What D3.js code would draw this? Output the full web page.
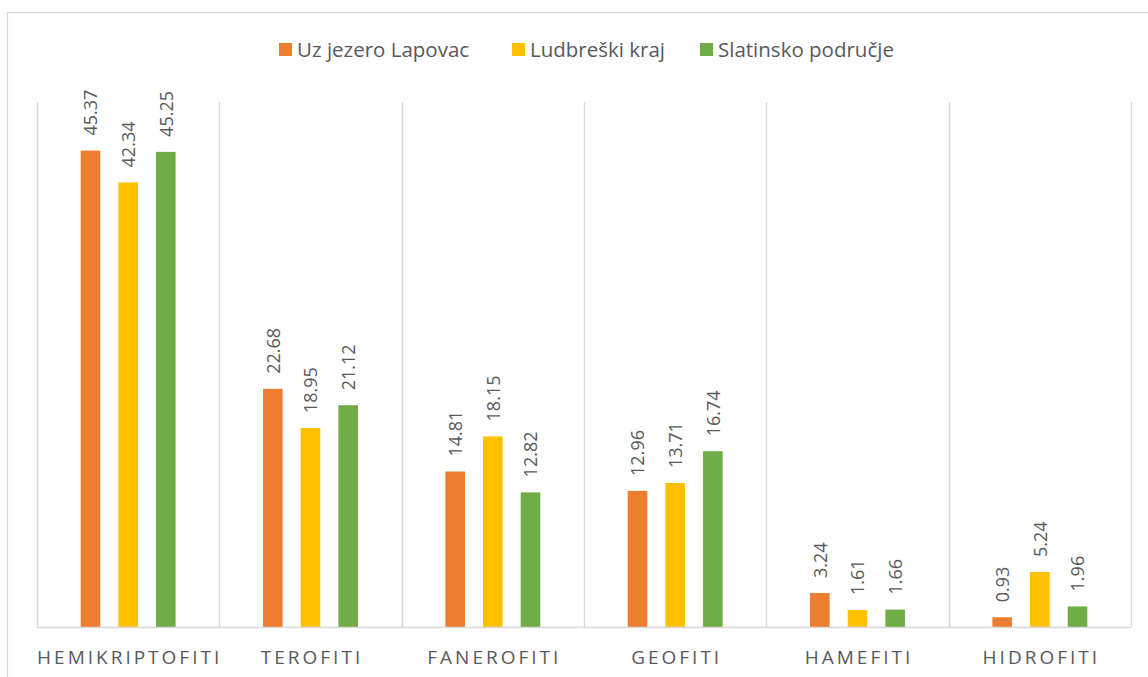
<!DOCTYPE html>
<html>
<head>
<meta charset="utf-8">
<script src="https://cdn.jsdelivr.net/npm/d3@7"></script>
<style>
  body { margin: 0; background: #fff; }
  text { font-family: "Open Sans", "Noto Sans", sans-serif; }
</style>
</head>
<body>
<div id="chart"></div>
<script>
var categories = ["HEMIKRIPTOFITI", "TEROFITI", "FANEROFITI", "GEOFITI", "HAMEFITI", "HIDROFITI"];
var seriesNames = ["Uz jezero Lapovac", "Ludbreški kraj", "Slatinsko područje"];
var lapovac = [45.37, 22.68, 14.81, 12.96, 3.24, 0.93];
var ludbreg = [42.34, 18.95, 18.15, 13.71, 1.61, 5.24];
var slatina = [45.25, 21.12, 12.82, 16.74, 1.66, 1.96];

function drawChart(placement, w, h) {
    var plot = {left: 37, right: 1131, top: 102, bottom: 627};
    var colors = ["#ED7D31", "#FFC000", "#70AD47"];
    var textColor = "#595959";

    var data = categories.map(function(c, i) {
        return {name: c, values: [lapovac[i], ludbreg[i], slatina[i]].map(function(v, j) {
            return {series: seriesNames[j], value: v};
        })};
    });

    var svg = d3.select(placement).append("svg")
        .attr("width", w).attr("height", h);

    // chart frame
    svg.append("rect")
        .attr("x", 7.5).attr("y", 12.5)
        .attr("width", w + 20).attr("height", h + 20)
        .attr("fill", "none").attr("stroke", "#D9D9D9").attr("stroke-width", 1.3);

    var x0 = d3.scaleBand().domain(categories).range([plot.left, plot.right]).padding(0);
    var x1 = d3.scaleBand().domain(seriesNames).range([0, x0.bandwidth()])
        .paddingInner(0.48).paddingOuter(1.16);
    var color = d3.scaleOrdinal().domain(seriesNames).range(colors);
    var y = d3.scaleLinear().domain([0, 50]).range([plot.bottom, plot.top]);

    // vertical separators
    var seps = categories.map(function(c) { return x0(c); }).concat([plot.right]);
    svg.append("g").selectAll("line").data(seps).enter().append("line")
        .attr("x1", function(d) { return Math.round(d) + 0.5; })
        .attr("x2", function(d) { return Math.round(d) + 0.5; })
        .attr("y1", plot.top).attr("y2", plot.bottom)
        .attr("stroke", "#D9D9D9").attr("stroke-width", 1.5);

    var groups = svg.selectAll(".cat").data(data).enter().append("g")
        .attr("class", "cat")
        .attr("transform", function(d) { return "translate(" + x0(d.name) + ",0)"; });

    groups.selectAll("rect").data(function(d) { return d.values; }).enter().append("rect")
        .attr("x", function(d) { return x1(d.series); })
        .attr("y", function(d) { return y(d.value); })
        .attr("width", x1.bandwidth())
        .attr("height", function(d) { return plot.bottom - y(d.value); })
        .attr("fill", function(d) { return color(d.series); });

    groups.selectAll(".lbl").data(function(d) { return d.values; }).enter().append("text")
        .attr("class", "lbl")
        .attr("transform", function(d) {
            return "translate(" + (x1(d.series) + x1.bandwidth() / 2 + 0.5) + "," + (y(d.value) - 15) + ") rotate(-90)";
        })
        .attr("dy", "0.36em")
        .attr("font-size", "18px")
        .attr("fill", textColor)
        .text(function(d) { return d.value.toFixed(2); });

    // baseline
    svg.append("line")
        .attr("x1", plot.left).attr("x2", plot.right)
        .attr("y1", plot.bottom + 0.5).attr("y2", plot.bottom + 0.5)
        .attr("stroke", "#D9D9D9").attr("stroke-width", 1.5);

    // x axis labels
    svg.append("g").selectAll("text").data(categories).enter().append("text")
        .attr("x", function(d) { return x0(d) + x0.bandwidth() / 2 + 1.5; })
        .attr("y", 664)
        .attr("text-anchor", "middle")
        .attr("font-size", "19px")
        .attr("letter-spacing", "3px")
        .attr("fill", textColor)
        .text(function(d) { return d; });

    // legend
    var legendX = [279, 512, 700];
    var legend = svg.selectAll(".legend").data(seriesNames).enter().append("g")
        .attr("class", "legend")
        .attr("transform", function(d, i) { return "translate(" + legendX[i] + ",43)"; });
    legend.append("rect")
        .attr("width", 13).attr("height", 13)
        .attr("fill", function(d) { return color(d); });
    legend.append("text")
        .attr("x", 18).attr("y", 7)
        .attr("dy", "0.36em")
        .attr("font-size", "20.5px")
        .attr("fill", textColor)
        .text(function(d) { return d; });
}

drawChart("#chart", 1148, 677);
</script>
</body>
</html>
